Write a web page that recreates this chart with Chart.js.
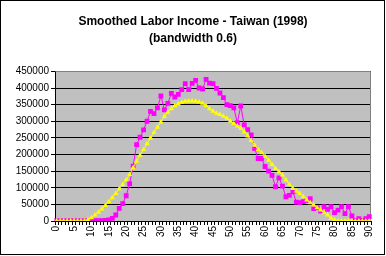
<!DOCTYPE html>
<html>
<head>
<meta charset="utf-8">
<script src="https://cdn.jsdelivr.net/npm/chart.js@4"></script>
<style>
  body { margin: 0; background: #fff; }
  canvas { display: block; }
</style>
</head>
<body>
<canvas id="laborChart" width="386" height="256"></canvas>
<script>
const ages = Array.from({length: 91}, (_, i) => String(i));

const titleLines = ["Smoothed Labor Income - Taiwan (1998)", "(bandwidth 0.6)"];

// raw (magenta) series
const rawIncome = [
  0, 0, 0, 0, 0, 0, 0, 0, 0, 0,
  1000, 1000, 1000, 1000, 1500, 3000, 8000, 18000, 38000, 52000,
  76000, 112000, 165000, 230000, 252000, 274000, 300000, 330000, 323000, 340000,
  376000, 334000, 354000, 384000, 373000, 381000, 395000, 413000, 395000, 414000,
  423000, 400000, 397000, 426000, 415000, 413000, 399000, 385000, 371000, 350000,
  347000, 340000, 296000, 346000, 289000, 275000, 259000, 218000, 188000, 188000,
  164000, 150000, 137000, 103000, 130000, 105000, 73000, 77000, 88000, 57000,
  55000, 58000, 62000, 67000, 37000, 40000, 30000, 43000, 35000, 43000,
  25000, 33000, 43000, 22000, 43000, 15000, 2000, 7000, 2000, 7000,
  13000
];

// smoothed (yellow) series
const smoothIncome = [
  0, 0, 0, 0, 0, 0, 0, 0, 0, 4000,
  10000, 18000, 26000, 36000, 47000, 58000, 70000, 83000, 97000, 110000,
  124000, 140000, 160000, 180000, 198000, 215000, 232000, 250000, 266000, 282000,
  298000, 314000, 327000, 338000, 347000, 353000, 357000, 360000, 361000, 361000,
  360000, 358000, 354000, 347000, 338000, 330000, 324000, 320000, 315000, 309000,
  301000, 293000, 286000, 278000, 268000, 256000, 242000, 228000, 215000, 205000,
  195000, 183000, 170000, 158000, 148000, 138000, 123000, 110000, 98000, 90000,
  83000, 73000, 63000, 55000, 48000, 40000, 33000, 25000, 18000, 8000,
  3000, 0, 0, 0, 0, 0, 0, 0, 0, 0,
  0
];

const plotFrame = {
  id: "plotFrame",
  beforeDraw(chart) {
    const {ctx, chartArea: a} = chart;
    ctx.save();
    ctx.fillStyle = "#fff";
    ctx.fillRect(0, 0, chart.width, chart.height);
    ctx.fillStyle = "#c0c0c0";
    ctx.fillRect(a.left, a.top, a.right - a.left, a.bottom - a.top);
    ctx.restore();
  },
  beforeDatasetsDraw(chart) {
    const {ctx, chartArea: a} = chart;
    ctx.save();
    ctx.strokeStyle = "#808080";
    ctx.lineWidth = 1;
    ctx.beginPath();
    ctx.moveTo(Math.round(a.left) + 0.5, Math.round(a.top) + 0.5);
    ctx.lineTo(Math.round(a.right) - 0.5, Math.round(a.top) + 0.5);
    ctx.lineTo(Math.round(a.right) - 0.5, Math.round(a.bottom));
    ctx.stroke();
    ctx.restore();
  },
  afterDraw(chart) {
    const ctx = chart.ctx;
    ctx.save();
    ctx.strokeStyle = "#000";
    ctx.lineWidth = 1;
    ctx.strokeRect(0.5, 0.5, 384, 254);
    ctx.restore();
  }
};

new Chart(document.getElementById("laborChart"), {
  type: "line",
  data: {
    labels: ages,
    datasets: [{
      label: "smoothed",
      data: smoothIncome,
      borderColor: "#ffff00",
      backgroundColor: "#ffff00",
      borderWidth: 1,
      pointStyle: "triangle",
      pointRadius: 3,
      pointBorderWidth: 0,
      tension: 0
    }, {
      label: "raw",
      data: rawIncome,
      borderColor: "#ff00ff",
      backgroundColor: "#ff00ff",
      borderWidth: 1,
      pointStyle: "rect",
      pointRadius: 3.4,
      pointBorderWidth: 0,
      tension: 0
    }]
  },
  options: {
    responsive: false,
    animation: false,
    layout: {padding: 0},
    plugins: {
      legend: {display: false},
      tooltip: {enabled: false},
      title: {
        display: true,
        text: titleLines,
        color: "#000",
        font: {family: "Liberation Sans, Arial, sans-serif", size: 12, weight: "bold", lineHeight: 1.35},
        padding: {top: 14, bottom: 25}
      }
    },
    scales: {
      x: {
        type: "category",
        offset: true,
        afterFit(scale) { scale.height = 35; },
        grid: {
          offset: true,
          drawOnChartArea: false,
          drawTicks: true,
          tickLength: 4,
          color: "#000"
        },
        border: {color: "#000", width: 1},
        ticks: {
          autoSkip: false,
          minRotation: 90,
          maxRotation: 90,
          padding: 1,
          color: "#000",
          font: {family: "Liberation Sans, Arial, sans-serif", size: 10},
          callback(v, i) { return i % 5 === 0 ? ages[i] : ""; }
        }
      },
      y: {
        min: 0,
        max: 450000,
        afterFit(scale) { scale.width = 55; },
        grid: {
          color: "#000",
          tickLength: 4
        },
        border: {color: "#000", width: 1},
        ticks: {
          stepSize: 50000,
          padding: 2,
          color: "#000",
          font: {family: "Liberation Sans, Arial, sans-serif", size: 10},
          callback(v) { return String(v); }
        }
      },
      // empty right-hand spacer so the title stays centred on the whole canvas
      spacer: {
        type: "linear",
        position: "right",
        min: 0,
        max: 1,
        afterFit(scale) { scale.width = 15; },
        grid: {drawOnChartArea: false, drawTicks: false},
        border: {display: false},
        ticks: {display: false}
      }
    }
  },
  plugins: [plotFrame]
});
</script>
</body>
</html>
